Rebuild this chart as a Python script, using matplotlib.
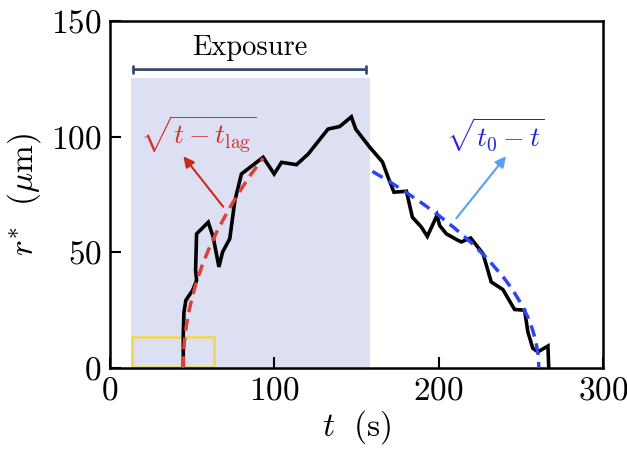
import matplotlib
matplotlib.use('Agg')
import matplotlib.pyplot as plt
from matplotlib.patches import Rectangle

plt.rcParams['font.family'] = 'serif'
plt.rcParams['font.serif'] = ['cmr10']
plt.rcParams['mathtext.fontset'] = 'cm'
plt.rcParams['axes.formatter.use_mathtext'] = True

# measured radius vs time
t_data = [44.6, 44.6, 45, 46.2, 50.3, 52.7, 52.1, 52.7, 59.8, 62.8, 66.3, 68.5, 72.9,
          76, 78, 80, 93.2, 99.9, 104.4, 113.5, 120.6, 132.7, 139.8, 146.9, 149.5,
          158.1, 165.8, 169.2, 172.8, 180.4, 184, 189.5, 193.1, 199, 200.6, 204.7,
          211.7, 213.8, 219.5, 227, 232, 239.1, 246.2, 252.3, 254.3, 257.3, 260.4,
          266.5, 267]
r_data = [0, 15, 24, 29.3, 33.6, 37.9, 42.2, 58, 63, 56.6, 43.7, 50.1, 55.9,
          72.4, 78.1, 83.9, 91.1, 83.9, 88.9, 87.9, 92.5, 103.3, 104.4, 108.6, 103.3,
          95.4, 89.1, 82.5, 76, 76.4, 65.2, 60.9, 56.9, 66, 61.6, 58,
          55.2, 54.5, 56.2, 49.4, 37.2, 33.9, 25.3, 25, 15.6, 8.5, 7,
          9.5, 0]

# growth fit sqrt(t - t_lag)
t_grow = [44.5, 44.8, 45.5, 46.5, 48, 50, 52, 56, 60, 65, 70, 75, 80, 86, 93.2]
r_grow = [0, 7.1, 13, 18.4, 24.3, 30.5, 35.6, 44.2, 51.2, 58.9, 65.6, 71.8, 77.5, 83.9, 90.7]

# shrink fit sqrt(t0 - t)
t_shrink = [159.7, 170, 180, 190, 200, 210, 220, 230, 240, 245, 250, 254, 257, 259, 260.5, 261]
r_shrink = [85, 80.6, 76, 71.2, 66, 60.3, 54.1, 47, 38.7, 33.8, 28, 22.4, 16.9, 12, 6, 0]

exposure_start, exposure_end = 13, 158

fig = plt.figure(figsize=(6.27, 4.55), dpi=100)
ax = fig.add_axes([0.1754, 0.1912, 0.7863, 0.7626])

ax.add_patch(Rectangle((exposure_start, 0), exposure_end - exposure_start, 125.5,
                       facecolor='#dde0f3', edgecolor='none', zorder=0))
ax.add_patch(Rectangle((13.5, 0.5), 50, 13, facecolor='none', edgecolor='#f0d84a',
                       linewidth=1.8, zorder=1))

ax.plot(t_data, r_data, color='black', lw=2.6, solid_joinstyle='miter', zorder=3)
ax.plot(t_grow, r_grow, color='#d9433a', lw=2.5, ls=(0, (3.4, 2)), zorder=4)
ax.plot(t_shrink, r_shrink, color='#2d45f0', lw=2.5, ls=(0, (3.4, 2)), zorder=4)

# exposure bracket
ax.annotate('', xy=(exposure_start - 0.5, 129), xytext=(exposure_end - 0.5, 129),
            arrowprops=dict(arrowstyle='|-|, widthA=0.25, widthB=0.25', color='#34506f', lw=2))
ax.text(85, 138.5, 'Exposure', fontsize=20.5, ha='center', va='center')

ax.annotate('', xy=(43.6, 92.5), xytext=(69.9, 68.8),
            arrowprops=dict(arrowstyle='-|>', color='#cc2a1a', lw=1.5, mutation_scale=16))
ax.text(53.7, 101, r'$\sqrt{t - t_{\mathrm{lag}}}$', color='#d4302a', fontsize=20,
        ha='center', va='center')

ax.annotate('', xy=(242.1, 92.5), xytext=(209.7, 63.8),
            arrowprops=dict(arrowstyle='-|>', color='#5aa0f0', lw=1.5, mutation_scale=16))
ax.text(234.6, 101, r'$\sqrt{t_0 - t}$', color='#2020e0', fontsize=20,
        ha='center', va='center')

ax.set_xlim(0, 300)
ax.set_ylim(0, 150)
ax.set_xticks([0, 100, 200, 300])
ax.set_yticks([0, 50, 100, 150])
ax.tick_params(direction='in', length=8, width=1.5, labelsize=24, pad=6)
for s in ax.spines.values():
    s.set_linewidth(1.8)
ax.set_xlabel(r'$t\ \ (\mathrm{s})$', fontsize=24, labelpad=2)
ax.set_ylabel(r'$r^{*}\ \ (\mu\mathrm{m})$', fontsize=24, labelpad=6)

fig.savefig('out.png', dpi=100)
